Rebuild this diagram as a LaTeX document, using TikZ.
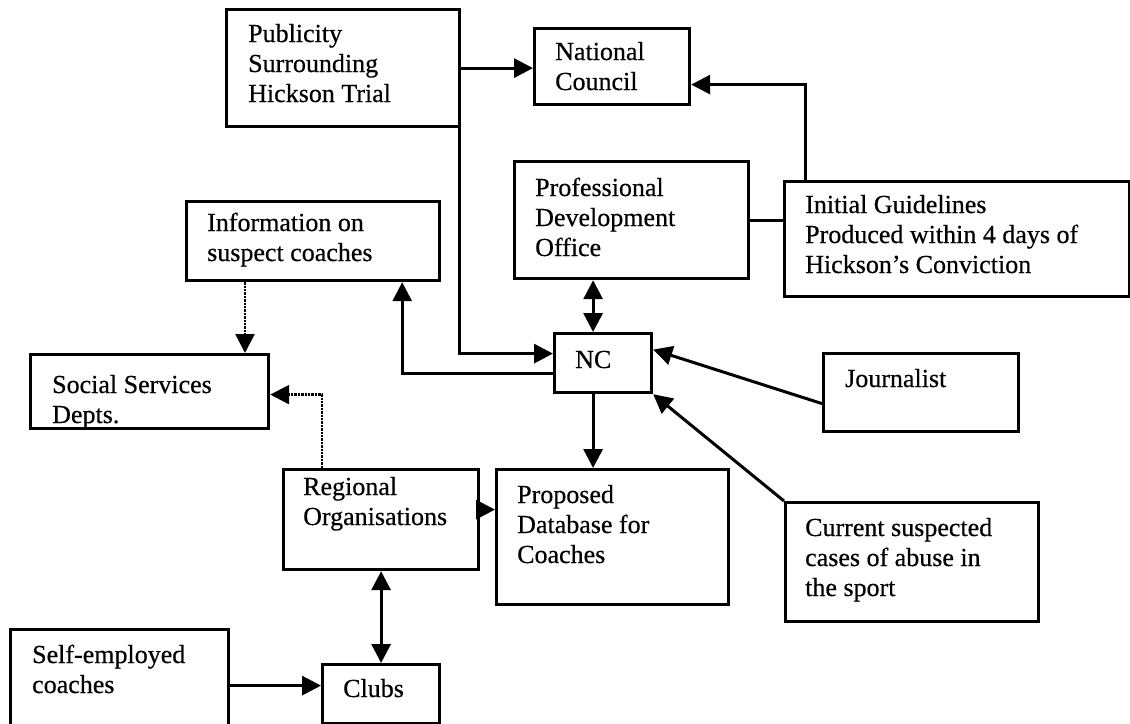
\documentclass[tikz,border=0pt]{standalone}
\usepackage{fontspec}
\setmainfont{Liberation Serif}[FakeBold=0.5]
\usetikzlibrary{arrows.meta}
\begin{document}
\begin{tikzpicture}[x=1pt,y=-1pt,
  box/.style={draw, line width=3.2pt, anchor=north west, inner sep=0pt},
  % labels are placed by the baseline of their last line
  lbl/.style={anchor=base west, align=left, inner sep=0pt, font=\fontsize{26}{30}\selectfont},
  link/.style={line width=3pt, -{Triangle[length=19pt,width=19pt]}},
  both/.style={line width=3pt, {Triangle[length=19pt,width=19pt]}-{Triangle[length=19pt,width=19pt]}},
  plain/.style={line width=3pt},
  faint/.style={line width=2.4pt, densely dotted, -{Triangle[length=19pt,width=19pt]}}]
\useasboundingbox (0,0) rectangle (1130,723);

% boxes
\node[box, minimum width=233pt, minimum height=117pt] (pub)   at (225,8)   {};
\node[box, minimum width=155pt, minimum height=76pt]  (natc)  at (533,27)  {};
\node[box, minimum width=234pt, minimum height=117pt] (pdo)   at (513,160) {};
\node[box, minimum width=345pt, minimum height=115pt] (init)  at (783,180) {};
\node[box, minimum width=253pt, minimum height=79pt]  (info)  at (185,200) {};
\node[box, minimum width=97pt,  minimum height=59pt]  (nc)    at (553,332) {};
\node[box, minimum width=195pt, minimum height=78pt]  (journ) at (822,352) {};
\node[box, minimum width=238pt, minimum height=74pt]  (ss)    at (29,353)  {};
\node[box, minimum width=195pt, minimum height=100pt] (reg)   at (282,468) {};
\node[box, minimum width=232pt, minimum height=135pt] (db)    at (495,468) {};
\node[box, minimum width=253pt, minimum height=119pt] (cur)   at (784,501) {};
\node[box, minimum width=117pt, minimum height=59pt]  (clubs) at (321,663) {};
\node[box, minimum width=218pt, minimum height=112pt] (self)  at (9,628)   {};

% labels
\node[lbl] (pub-t)   at (248,102) {Publicity\\Surrounding\\Hickson Trial};
\node[lbl] (natc-t)  at (555,90)  {National\\Council};
\node[lbl] (pdo-t)   at (535,256) {Professional\\Development\\Office};
\node[lbl] (init-t)  at (805,273) {Initial Guidelines\\Produced within 4 days of\\Hickson’s Conviction};
\node[lbl] (info-t)  at (207,261) {Information on\\suspect coaches};
\node[lbl] (nc-t)    at (575,368) {NC};
\node[lbl] (journ-t) at (845,387) {Journalist};
\node[lbl] (ss-t)    at (52,423)  {Social Services\\Depts.};
\node[lbl] (reg-t)   at (303,525) {Regional\\Organisations};
\node[lbl] (db-t)    at (517,563) {Proposed\\Database for\\Coaches};
\node[lbl] (cur-t)   at (805,596) {Current suspected\\cases of abuse in\\the sport};
\node[lbl] (clubs-t) at (343,697) {Clubs};
\node[lbl] (self-t)  at (32,693)  {Self-employed\\coaches};

% connectors
\draw[link]  (pub.east) -- (pub.east -| natc.west);
\draw[link]  ([xshift=22pt]init.north west) |- ([yshift=-18pt]natc.east);
\draw[plain] (pdo.east) -- (pdo.east -| init.west);
\draw[both]  ([xshift=-10pt]nc.north) -- ([xshift=-10pt]nc.north |- pdo.south);
\draw[link]  ([xshift=-1.5pt]pub.south east) |- ([yshift=9.5pt]nc.west);
\draw[link]  ([yshift=-10.5pt]nc.west) -| ([xshift=-39pt]info.south east);
\draw[faint] ([xshift=60pt]info.south west) -- ([xshift=60pt]info.south west |- ss.north);
\draw[faint] ([xshift=40pt]reg.north west) |- ([yshift=-3pt]ss.east);
\draw[link]  ([yshift=-11pt]journ.west) -- ([yshift=13.5pt]nc.east);
\draw[link]  (cur.north west) -- (nc.south east);
\draw[link]  ([xshift=-10pt]nc.south) -- ([xshift=-10pt]nc.south |- db.north);
\draw[link]  ([yshift=10pt]reg.east) -- ([yshift=10pt]reg.east -| db.west);
\draw[both]  (reg.south) -- (clubs.north);
\draw[link]  (self.east) -- (self.east -| clubs.west);
\end{tikzpicture}
\end{document}
